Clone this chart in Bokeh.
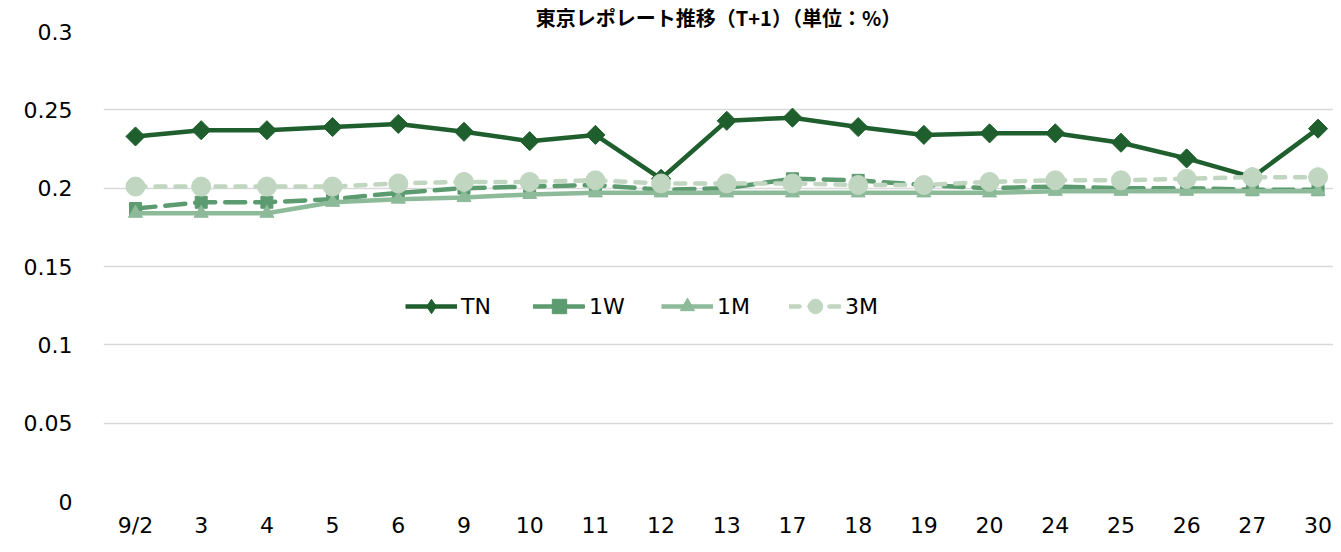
import math
from bokeh.plotting import figure
from bokeh.models import Range1d, FixedTicker, Legend, LegendItem, ColumnDataSource
from bokeh.embed import file_html
from bokeh.resources import INLINE

dates = ["9/2", "3", "4", "5", "6", "9", "10", "11", "12", "13", "17", "18", "19", "20", "24", "25", "26", "27", "30"]
tn = [0.233, 0.237, 0.237, 0.239, 0.241, 0.236, 0.230, 0.234, 0.206, 0.243, 0.245, 0.239, 0.234, 0.235, 0.235, 0.229, 0.219, 0.207, 0.238]
w1 = [0.187, 0.191, 0.191, 0.193, 0.197, 0.200, 0.201, 0.202, 0.199, 0.200, 0.206, 0.205, 0.202, 0.200, 0.201, 0.200, 0.200, 0.199, 0.199]
m1 = [0.184, 0.184, 0.184, 0.191, 0.193, 0.194, 0.196, 0.197, 0.197, 0.197, 0.197, 0.197, 0.197, 0.197, 0.198, 0.198, 0.198, 0.198, 0.198]
m3 = [0.201, 0.201, 0.201, 0.201, 0.203, 0.204, 0.204, 0.205, 0.203, 0.203, 0.203, 0.202, 0.202, 0.204, 0.205, 0.205, 0.206, 0.207, 0.207]
y_ticks = [0, 0.05, 0.1, 0.15, 0.2, 0.25, 0.3]
y_tick_labels = ["0", "0.05", "0.1", "0.15", "0.2", "0.25", "0.3"]
title_text = "東京レポレート推移（T+1）（単位：%）"

C_TN = "#1f5f2e"
C_1W = "#5b9b6f"
C_1M = "#8dba99"
C_3M = "#c0d6c0"

idx = list(range(len(dates)))
nan = float("nan")

p = figure(width=1333, height=544, x_range=Range1d(-0.487, 18.235), y_range=Range1d(0, 0.3),
           output_backend="svg", toolbar_location=None,
           min_border_left=103, min_border_right=0, min_border_top=28, min_border_bottom=43)
p.title.text = title_text
p.title.align = "center"
p.title.offset = 0
p.title.standoff = 0
p.title.text_line_height = 0.9
p.title.text_font = "Noto Sans CJK JP"
p.title.text_font_style = "bold"
p.title.text_font_size = "20px"
p.title.text_color = "#000000"
p.outline_line_color = None
p.xgrid.grid_line_color = None
p.ygrid.grid_line_color = "#d9d9d9"
p.ygrid.grid_line_width = 1.5
p.yaxis.ticker = FixedTicker(ticks=y_ticks)
p.yaxis.major_label_overrides = {t: l for t, l in zip(y_ticks, y_tick_labels)}
p.xaxis.ticker = FixedTicker(ticks=idx)
p.xaxis.major_label_overrides = {i: d for i, d in zip(idx, dates)}
for ax in (p.xaxis, p.yaxis):
    ax.axis_line_color = None
    ax.major_tick_line_color = None
    ax.minor_tick_line_color = None
    ax.major_tick_out = 0
    ax.major_tick_in = 0
    ax.major_label_text_font = "DejaVu Sans"
    ax.major_label_text_font_size = "22px"
    ax.major_label_text_color = "#000000"
p.yaxis.major_label_standoff = 31
p.xaxis.major_label_standoff = 11

src = ColumnDataSource(dict(x=idx, tn=tn, w1=w1, m1=m1, m3=m3))

l_tn = p.line("x", "tn", source=src, line_color=C_TN, line_width=4.5, line_join="round")
s_tn = p.scatter("x", "tn", source=src, marker="square", size=13.5, angle=math.pi / 4,
                 fill_color=C_TN, line_color=C_TN)
l_w1 = p.line("x", "w1", source=src, line_color=C_1W, line_width=4.5, line_dash="20 10", line_cap="round")
s_w1 = p.scatter("x", "w1", source=src, marker="square", size=12, fill_color=C_1W, line_color=C_1W)
l_m1 = p.line("x", "m1", source=src, line_color=C_1M, line_width=4.5, line_join="round")
s_m1 = p.scatter("x", "m1", source=src, marker="triangle", size=14, fill_color=C_1M, line_color=C_1M)
l_m3 = p.line("x", "m3", source=src, line_color=C_3M, line_width=4.5, line_dash="10 10", line_cap="round")
s_m3 = p.scatter("x", "m3", source=src, marker="circle", size=19, fill_color=C_3M, line_color=C_3M)

# legend-only diamond for TN (legend does not rotate markers); NaN point draws nothing in the plot
d_tn = p.scatter(x=[nan], y=[nan], marker="diamond", fill_color=C_TN, line_color=C_TN)

legend = Legend(items=[
    LegendItem(label="TN", renderers=[l_tn, d_tn]),
    LegendItem(label="1W", renderers=[l_w1, s_w1]),
    LegendItem(label="1M", renderers=[l_m1, s_m1]),
    LegendItem(label="3M", renderers=[l_m3, s_m3]),
], orientation="horizontal", location=(302, 177))
legend.border_line_color = None
legend.background_fill_alpha = 0
legend.padding = 0
legend.margin = 0
legend.glyph_width = 52
legend.glyph_height = 36
legend.label_width = 50
legend.spacing = 22
legend.label_standoff = 4
legend.label_text_font = "DejaVu Sans"
legend.label_text_font_size = "22px"
legend.label_text_color = "#000000"
p.add_layout(legend, "center")

open("out.html", "w").write(file_html(p, INLINE))
